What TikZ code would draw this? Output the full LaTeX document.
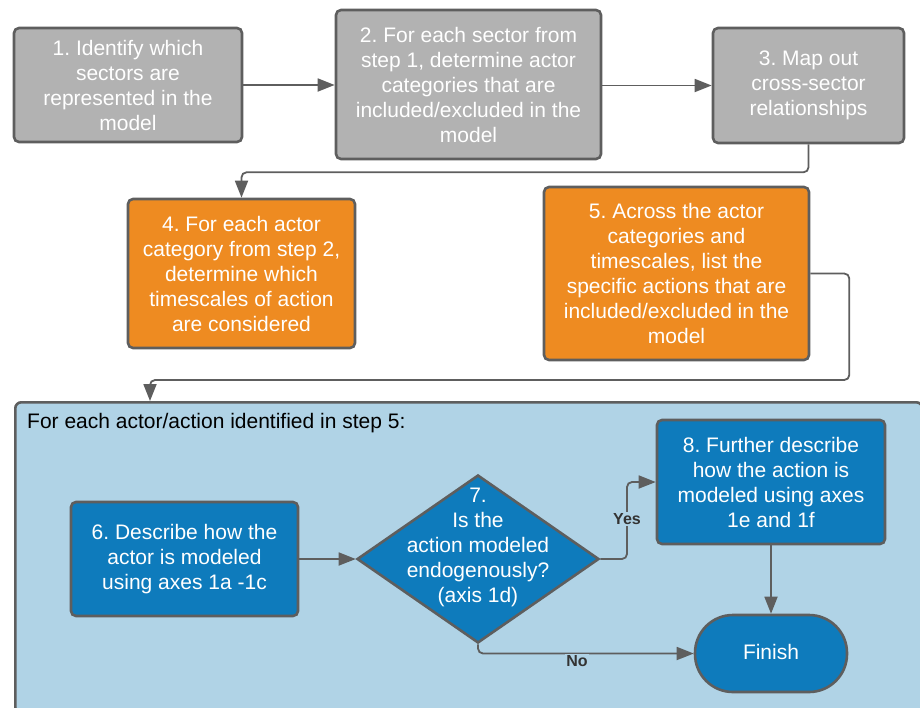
\documentclass[tikz,border=0pt]{standalone}
\usepackage{fontspec}
\setmainfont{Liberation Sans}
\usetikzlibrary{shapes.geometric,arrows.meta}
\frenchspacing
\definecolor{bordc}{HTML}{5E5E5E}
\definecolor{greyf}{HTML}{B2B2B2}
\definecolor{orgf}{HTML}{EE8B21}
\definecolor{bluef}{HTML}{0E7BBC}
\definecolor{contf}{HTML}{B0D3E6}
\tikzset{
  base/.style={draw=bordc, line width=2.6pt, rounded corners=5pt, text=white,
    align=center, font=\fontsize{21}{25}\selectfont, inner sep=0pt},
  greybox/.style={base, fill=greyf},
  orangebox/.style={base, fill=orgf},
  bluebox/.style={base, fill=bluef},
  conn/.style={draw=bordc, line width=1.8pt, rounded corners=5pt,
    -{Triangle[length=17pt,width=13pt]}},
  lbl/.style={font=\bfseries\fontsize{16}{18}\selectfont, text=black!80, fill=contf, inner sep=1pt}
}
\begin{document}
\begin{tikzpicture}[x=1pt,y=-1pt]
\useasboundingbox (0,0) rectangle (920,707);
% container
\node[draw=bordc, line width=2.6pt, rounded corners=6pt, fill=contf, minimum width=907pt, minimum height=311pt, inner sep=0pt, anchor=north west] (cont) at (14,401) {};
\node[anchor=west, font=\fontsize{21}{25}\selectfont, text=black, inner sep=0pt] (conttxt) at (27,423) {For each actor/action identified in step 5:};
% top row
\node[greybox, minimum width=228pt, minimum height=114pt] (b1) at (128,85) {1. Identify which\\sectors are\\represented in the\\model};
\node[greybox, minimum width=265pt, minimum height=149pt] (b2) at (468.5,84.5) {2. For each sector from\\step 1, determine actor\\categories that are\\included/excluded in the\\model};
\node[greybox, minimum width=191pt, minimum height=115pt] (b3) at (808.5,85.5) {3. Map out\\cross-sector\\relationships};
% second row
\node[orangebox, minimum width=227pt, minimum height=149pt] (b4) at (241.5,273.5) {4. For each actor\\category from step 2,\\determine which\\timescales of action\\are considered};
\node[orangebox, minimum width=265pt, minimum height=173pt] (b5) at (676.5,273.5) {5. Across the actor\\categories and\\timescales, list the\\specific actions that are\\included/excluded in the\\model};
% inner flow
\node[bluebox, minimum width=227pt, minimum height=114pt] (b6) at (184.5,559) {6. Describe how the\\actor is modeled\\using axes 1a -1c};
\node[draw=bordc, line width=2.6pt, fill=bluef, shape=diamond, minimum width=242pt, minimum height=168pt, inner sep=0pt] (d7) at (478,559) {};
\node[text=white, align=center, font=\fontsize{21}{25}\selectfont, inner sep=0pt] (d7t) at (478,547) {7.\\Is the\\action modeled\\endogenously?\\(axis 1d)};
\node[bluebox, minimum width=228pt, minimum height=124pt] (b8) at (771,482) {8. Further describe\\how the action is\\modeled using axes\\1e and 1f};
\node[draw=bordc, line width=2.6pt, fill=bluef, rounded corners=38pt, minimum width=152pt, minimum height=77pt, inner sep=0pt, text=white, font=\fontsize{21}{25}\selectfont] (fin) at (771,653.5) {\raisebox{3pt}{Finish}};
% connectors
\draw[conn] (b1.east) -- (b1.east -| b2.west);
\draw[conn] (b2.east |- b3.west) -- (b3.west);
\draw[conn] (b3.south) -- ++(0,28) -| (b4.north);
\draw[conn] (b5.east) -- ++(39,0) |- (150,380) -- (150,401);
\draw[conn] (b6.east) -- (d7.west);
\draw[conn] (d7.east) -- (627,559) |- (b8.west);
\draw[conn] (b8.south) -- (fin.north);
\draw[conn] (d7.south) |- (fin.west);
\node[lbl] (yes) at (627,519) {Yes};
\node[lbl] (no) at (577,661) {No};
\end{tikzpicture}
\end{document}
